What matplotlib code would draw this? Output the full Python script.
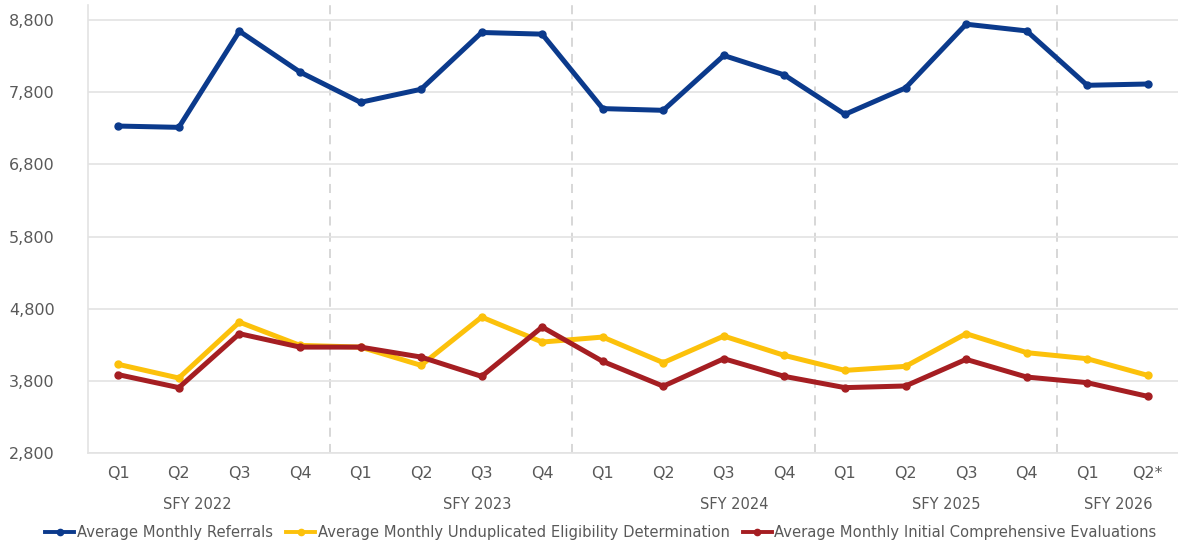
import numpy as np
import matplotlib.pyplot as plt

# quarter labels on x axis
quarters = ['Q1', 'Q2', 'Q3', 'Q4', 'Q1', 'Q2', 'Q3', 'Q4', 'Q1', 'Q2', 'Q3', 'Q4',
            'Q1', 'Q2', 'Q3', 'Q4', 'Q1', 'Q2*']
years = ['SFY 2022', 'SFY 2023', 'SFY 2024', 'SFY 2025', 'SFY 2026']
year_pos = [1.3, 5.92, 10.18, 13.68, 16.52]

referrals = [7332, 7314, 8647, 8081, 7661, 7842, 8629, 8606, 7574, 7550, 8310, 8040,
             7494, 7860, 8744, 8651, 7897, 7915]
eligibility = [4029, 3839, 4614, 4292, 4268, 4015, 4684, 4338, 4407, 4052, 4421, 4153,
               3945, 4001, 4454, 4191, 4107, 3876]
evaluations = [3886, 3706, 4454, 4268, 4268, 4130, 3862, 4546, 4070, 3726, 4107, 3862,
               3706, 3729, 4098, 3853, 3775, 3585]

x = np.arange(len(quarters))
txt = '#595959'

fig = plt.figure(figsize=(11.78, 5.46), dpi=100)
ax = fig.add_axes([88 / 1178, 1 - 453 / 546, 1 - 88 / 1178, 448 / 546])

ax.plot(x, referrals, color='#0b3a8c', lw=3.6, marker='o', ms=5, label='Average Monthly Referrals', zorder=3)
ax.plot(x, eligibility, color='#fcc10b', lw=3.6, marker='o', ms=5,
        label='Average Monthly Unduplicated Eligibility Determination', zorder=3)
ax.plot(x, evaluations, color='#a51e22', lw=3.6, marker='o', ms=5,
        label='Average Monthly Initial Comprehensive Evaluations', zorder=4)

# year separators
for sep in [3.5, 7.5, 11.5, 15.5]:
    ax.axvline(sep, color='#d4d4d4', lw=1.3, ls=(0, (5, 4)), zorder=1)

ax.set_xlim(-0.5, len(quarters) - 0.5)
ax.set_ylim(2800, 9010)
ax.set_yticks(np.arange(2800, 8801, 1000))
ax.set_yticklabels([f'{v:,}' for v in range(2800, 8801, 1000)])
ax.set_xticks(x)
ax.set_xticklabels(quarters)
ax.grid(axis='y', color='#e3e3e3', lw=1.2, zorder=0)
ax.tick_params(axis='y', length=0, pad=24, labelsize=11.5, labelcolor=txt)
ax.tick_params(axis='x', length=0, pad=9, labelsize=11.5, labelcolor=txt)

for s in ['top', 'right']:
    ax.spines[s].set_visible(False)
ax.spines['left'].set_color('#e3e3e3')
ax.spines['bottom'].set_color('#e3e3e3')
ax.spines['left'].set_linewidth(1.2)
ax.spines['bottom'].set_linewidth(1.2)

for lab, pos in zip(years, year_pos):
    ax.text(pos, -0.115, lab, transform=ax.get_xaxis_transform(), ha='center', va='center',
            fontsize=10.5, color=txt)

leg = fig.legend(loc='center', bbox_to_anchor=(0.51, 1 - 533 / 546), ncol=3, frameon=False,
                 fontsize=10.6, labelcolor=txt, handlelength=2.0, handletextpad=0.15,
                 columnspacing=0.9, markerscale=0.9)
for l in leg.get_lines():
    l.set_linewidth(2.8)

plt.savefig('out.png', dpi=100)
